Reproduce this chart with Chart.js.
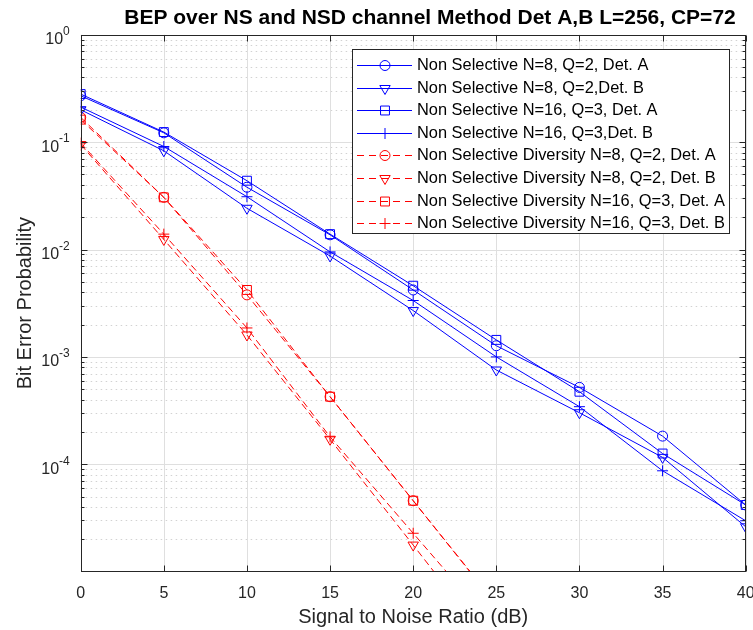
<!DOCTYPE html>
<html>
<head>
<meta charset="utf-8">
<script src="https://cdn.jsdelivr.net/npm/chart.js@4.4.1/dist/chart.umd.min.js"></script>
<style>
  html, body { margin: 0; padding: 0; background: #ffffff; }
  #wrap { width: 753px; height: 630px; }
</style>
</head>
<body>
<div id="wrap"><canvas id="bep" width="753" height="630"></canvas></div>
<script>
// SNR grid (dB)
const snrDb = [0, 5, 10, 15, 20, 25, 30, 35, 40];
const snrDbDiversity = [0, 5, 10, 15, 20, 25];

// Non selective channel
const nsN8DetA  = [0.270, 0.122, 0.0380, 0.0137, 0.00420, 0.00127, 0.000520, 0.000183, 0.0000418];
const nsN8DetB  = [0.200, 0.083, 0.0242, 0.0087, 0.00270, 0.000755, 0.000302, 0.000116, 0.0000262];
const nsN16DetA = [0.280, 0.124, 0.0437, 0.0139, 0.00460, 0.00144, 0.000474, 0.000126, 0.0000418];
const nsN16DetB = [0.212, 0.091, 0.0310, 0.0095, 0.00335, 0.00100, 0.000344, 0.0000870, 0.0000298];

// Non selective channel with diversity
const nsdN8DetA  = [0.170, 0.0306, 0.00378, 0.000426, 0.0000458, 0.0000049];
const nsdN8DetB  = [0.095, 0.0124, 0.00160, 0.000171, 0.0000177, 0.0000018];
const nsdN16DetA = [0.162, 0.0306, 0.00420, 0.000426, 0.0000458, 0.0000050];
const nsdN16DetB = [0.098, 0.0139, 0.00186, 0.000180, 0.0000228, 0.0000029];

const seriesLabels = [
  'Non Selective N=8, Q=2, Det. A',
  'Non Selective N=8, Q=2,Det. B',
  'Non Selective N=16, Q=3, Det. A',
  'Non Selective N=16, Q=3,Det. B',
  'Non Selective Diversity N=8, Q=2, Det. A',
  'Non Selective Diversity N=8, Q=2, Det. B',
  'Non Selective Diversity N=16, Q=3, Det. A',
  'Non Selective Diversity N=16, Q=3, Det. B'
];

// Axis ticks
const xTickValues = [0, 5, 10, 15, 20, 25, 30, 35, 40];
const yTickExponents = [0, -1, -2, -3, -4];

const titleText = 'BEP over NS and NSD channel Method Det A,B L=256, CP=72';
const xAxisTitle = 'Signal to Noise Ratio (dB)';
const yAxisTitle = 'Bit Error Probability';

const FONT = '"Liberation Sans", Arial, Helvetica, sans-serif';
const AXIS_COLOR = '#262626';
const BLUE = '#0000ff';
const RED = '#ff0000';
const DASH = [7, 4];

const markers = {
  circle:   { pointStyle: 'circle',   rotation: 0,   radius: 5 },
  triangle: { pointStyle: 'triangle', rotation: 180, radius: 6 },
  square:   { pointStyle: 'rect',     rotation: 0,   radius: 6.3 },
  plus:     { pointStyle: 'cross',    rotation: 0,   radius: 5.5 }
};

function series(label, xs, ys, color, dashed, marker) {
  return {
    label: label,
    data: xs.map((x, i) => ({ x: x, y: ys[i] })),
    borderColor: color,
    backgroundColor: 'rgba(0,0,0,0)',
    borderWidth: 1,
    borderDash: dashed ? DASH : [],
    pointStyle: marker.pointStyle,
    rotation: marker.rotation,
    pointRadius: marker.radius,
    pointHoverRadius: marker.radius,
    pointBorderColor: color,
    pointBackgroundColor: 'rgba(0,0,0,0)',
    pointBorderWidth: 1,
    tension: 0,
    fill: false,
    _marker: marker,
    _dashed: dashed
  };
}

const datasets = [
  series(seriesLabels[0], snrDb, nsN8DetA,  BLUE, false, markers.circle),
  series(seriesLabels[1], snrDb, nsN8DetB,  BLUE, false, markers.triangle),
  series(seriesLabels[2], snrDb, nsN16DetA, BLUE, false, markers.square),
  series(seriesLabels[3], snrDb, nsN16DetB, BLUE, false, markers.plus),
  series(seriesLabels[4], snrDbDiversity, nsdN8DetA,  RED, true, markers.circle),
  series(seriesLabels[5], snrDbDiversity, nsdN8DetB,  RED, true, markers.triangle),
  series(seriesLabels[6], snrDbDiversity, nsdN16DetA, RED, true, markers.square),
  series(seriesLabels[7], snrDbDiversity, nsdN16DetB, RED, true, markers.plus)
];

// Grid, box, inward ticks, exponent labels, titles and legend in a MATLAB-like style
const matlabFrame = {
  id: 'matlabFrame',
  beforeDatasetsDraw(chart) {
    const { ctx, chartArea: a, scales: { x, y } } = chart;
    ctx.save();
    ctx.lineWidth = 1;
    // minor y grid (dotted)
    ctx.strokeStyle = '#d2d2d2';
    ctx.setLineDash([1.5, 3.5]);
    for (let e = -5; e < 0; e++) {
      for (let m = 2; m <= 9; m++) {
        const py = Math.round(y.getPixelForValue(m * Math.pow(10, e))) + 0.5;
        if (py < a.top || py > a.bottom) continue;
        ctx.beginPath(); ctx.moveTo(a.left, py); ctx.lineTo(a.right, py); ctx.stroke();
      }
    }
    // major grid (solid)
    ctx.setLineDash([]);
    ctx.strokeStyle = '#dfdfdf';
    yTickExponents.forEach(e => {
      const py = Math.round(y.getPixelForValue(Math.pow(10, e))) + 0.5;
      ctx.beginPath(); ctx.moveTo(a.left, py); ctx.lineTo(a.right, py); ctx.stroke();
    });
    xTickValues.forEach(v => {
      const px = Math.round(x.getPixelForValue(v)) + 0.5;
      ctx.beginPath(); ctx.moveTo(px, a.top); ctx.lineTo(px, a.bottom); ctx.stroke();
    });
    ctx.restore();
  },
  afterDatasetsDraw(chart) {
    const { ctx, chartArea: a, scales: { x, y } } = chart;
    ctx.save();
    ctx.lineWidth = 1;
    ctx.strokeStyle = AXIS_COLOR;
    ctx.setLineDash([]);
    const L = Math.round(a.left) + 0.5, R = Math.round(a.right) - 0.5;
    const T = Math.round(a.top) + 0.5, B = Math.round(a.bottom) - 0.5;
    // inward ticks
    ctx.beginPath();
    xTickValues.forEach(v => {
      const px = Math.round(x.getPixelForValue(v)) + 0.5;
      ctx.moveTo(px, B); ctx.lineTo(px, B - 6);
      ctx.moveTo(px, T); ctx.lineTo(px, T + 6);
    });
    yTickExponents.forEach(e => {
      const py = Math.round(y.getPixelForValue(Math.pow(10, e))) + 0.5;
      ctx.moveTo(L, py); ctx.lineTo(L + 6, py);
      ctx.moveTo(R, py); ctx.lineTo(R - 6, py);
    });
    for (let e = -5; e < 0; e++) {
      for (let m = 2; m <= 9; m++) {
        const py = Math.round(y.getPixelForValue(m * Math.pow(10, e))) + 0.5;
        ctx.moveTo(L, py); ctx.lineTo(L + 3, py);
        ctx.moveTo(R, py); ctx.lineTo(R - 3, py);
      }
    }
    ctx.stroke();
    // box
    ctx.strokeRect(L, T, R - L, B - T);

    // y tick labels: 10 with raised exponent
    ctx.fillStyle = AXIS_COLOR;
    ctx.textBaseline = 'middle';
    ctx.textAlign = 'left';
    yTickExponents.forEach(e => {
      const py = y.getPixelForValue(Math.pow(10, e));
      const expText = String(e);
      ctx.font = '12px ' + FONT;
      const expW = ctx.measureText(expText).width;
      ctx.font = '16px ' + FONT;
      const baseW = ctx.measureText('10').width;
      const right = a.left - 11;
      ctx.fillText('10', right - expW - baseW, py + 5);
      ctx.font = '12px ' + FONT;
      ctx.fillText(expText, right - expW, py - 3);
    });

    // title
    ctx.fillStyle = '#000000';
    ctx.font = 'bold 21px ' + FONT;
    ctx.textAlign = 'center';
    ctx.fillText(titleText, 430, 18);

    // axis titles
    ctx.fillStyle = AXIS_COLOR;
    ctx.font = '20px ' + FONT;
    ctx.fillText(xAxisTitle, (a.left + a.right) / 2, 617);
    ctx.save();
    ctx.translate(25, (a.top + a.bottom) / 2);
    ctx.rotate(-Math.PI / 2);
    ctx.fillText(yAxisTitle, 0, 0);
    ctx.restore();

    // legend
    const box = { left: 352.5, top: 49.5, right: 729.5, bottom: 233.5 };
    ctx.fillStyle = '#ffffff';
    ctx.fillRect(box.left, box.top, box.right - box.left, box.bottom - box.top);
    ctx.strokeStyle = AXIS_COLOR;
    ctx.strokeRect(box.left, box.top, box.right - box.left, box.bottom - box.top);
    chart.data.datasets.forEach((ds, i) => {
      const cy = Math.round(65 + i * 22.6) + 0.5;
      ctx.strokeStyle = ds.borderColor;
      ctx.lineWidth = 1;
      ctx.setLineDash(ds._dashed ? [7, 5] : []);
      ctx.beginPath(); ctx.moveTo(357, cy); ctx.lineTo(412, cy); ctx.stroke();
      ctx.setLineDash([]);
      ctx.fillStyle = 'rgba(0,0,0,0)';
      Chart.helpers.drawPoint(ctx, {
        pointStyle: ds._marker.pointStyle,
        rotation: ds._marker.rotation,
        radius: ds._marker.radius,
        borderWidth: 1
      }, 385, cy);
      ctx.fillStyle = '#000000';
      ctx.font = '16.4px ' + FONT;
      ctx.textAlign = 'left';
      ctx.textBaseline = 'middle';
      ctx.fillText(ds.label, 417, cy);
    });
    ctx.restore();
  }
};

new Chart(document.getElementById('bep'), {
  type: 'line',
  data: { datasets: datasets },
  options: {
    responsive: false,
    animation: false,
    devicePixelRatio: 1,
    events: [],
    layout: { padding: { left: 0, top: 34.7, right: 7.3, bottom: 0 } },
    plugins: {
      legend: { display: false },
      title: { display: false },
      tooltip: { enabled: false }
    },
    scales: {
      x: {
        type: 'linear',
        min: 0,
        max: 40,
        grid: { display: false },
        border: { display: false },
        ticks: {
          color: AXIS_COLOR,
          font: { family: FONT, size: 16 },
          padding: 4,
          maxRotation: 0,
          autoSkip: false,
          callback: v => String(v)
        },
        afterBuildTicks: scale => { scale.ticks = xTickValues.map(v => ({ value: v })); },
        afterFit: scale => { scale.height = 58.3; scale.paddingLeft = 0; scale.paddingRight = 0; }
      },
      y: {
        type: 'logarithmic',
        min: 1e-5,
        max: 1,
        grid: { display: false },
        border: { display: false },
        ticks: { display: false },
        afterFit: scale => { scale.width = 80.7; scale.paddingTop = 0; scale.paddingBottom = 0; }
      }
    }
  },
  plugins: [matlabFrame]
});
</script>
</body>
</html>
